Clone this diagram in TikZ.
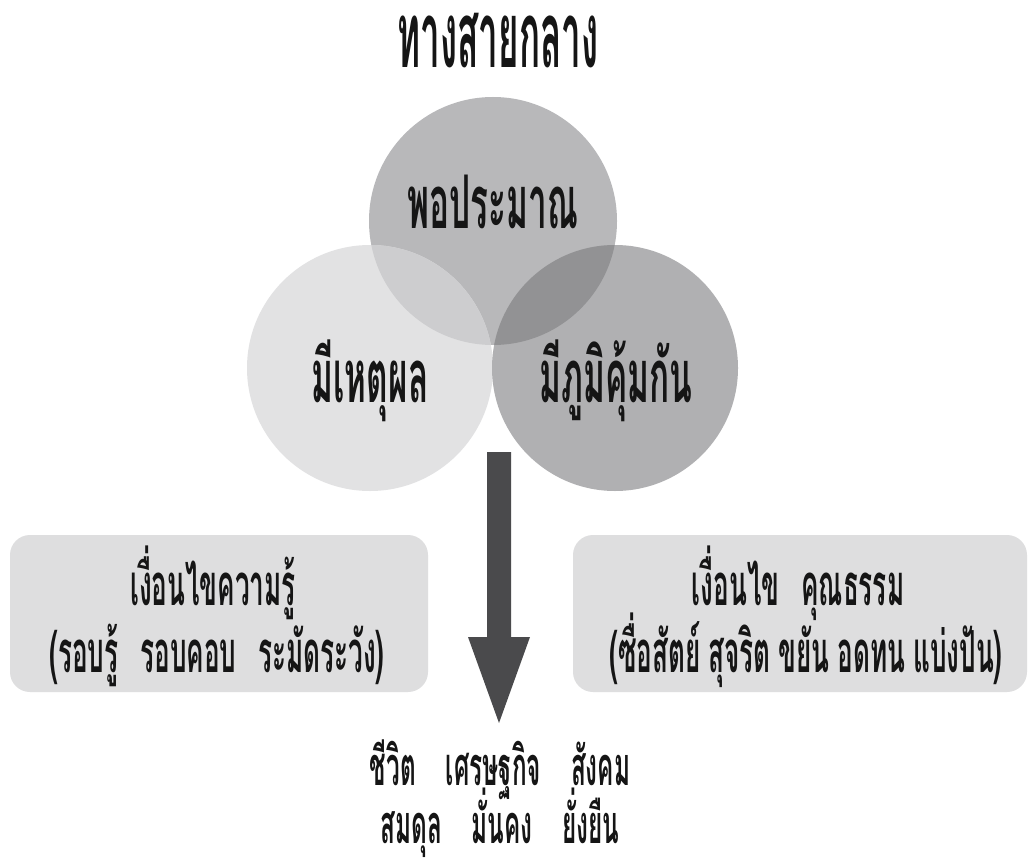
\documentclass[tikz,border=0pt]{standalone}
\usepackage{fontspec}
\newfontfamily\thf[Script=Thai,FakeStretch=0.45,BoldFont={* Bold}]{Loma}
\newfontfamily\thtitle[Script=Thai,FakeStretch=0.38,BoldFont={* Bold}]{Loma}
\definecolor{cTop}{HTML}{B8B8BA}
\definecolor{cLeft}{HTML}{E2E2E3}
\definecolor{cRight}{HTML}{B0B0B2}
\definecolor{cTL}{HTML}{CDCDCF}
\definecolor{cTR}{HTML}{929294}
\definecolor{cBox}{HTML}{DEDEDF}
\definecolor{cArrow}{HTML}{4A4A4C}
\definecolor{cText}{HTML}{151515}
\begin{document}
\begin{tikzpicture}[x=1pt,y=-1pt,
  lbl/.style={anchor=base,inner sep=0pt,text=cText,font=\thf\bfseries},
  big/.style={lbl,font=\thtitle\bfseries\fontsize{92}{96}\selectfont},
  mid/.style={lbl,font=\thf\bfseries\fontsize{74}{78}\selectfont},
  small/.style={lbl,font=\thf\bfseries\fontsize{58}{62}\selectfont},
  result/.style={lbl,font=\thf\bfseries\fontsize{54}{58}\selectfont},
  infobox/.style={draw=none,fill=cBox,rounded corners=20pt,inner sep=0pt}]
\useasboundingbox (0,0) rectangle (1030,861);
\fill[white] (0,0) rectangle (1030,861);
% circles
\coordinate (ct) at (493,221);
\coordinate (cl) at (370,368);
\coordinate (cr) at (615,368);
\fill[cTop] (ct) circle[radius=124];
\fill[cLeft] (cl) circle[radius=123];
\fill[cRight] (cr) circle[radius=123];
\begin{scope}
  \clip (ct) circle[radius=124];
  \fill[cTL] (cl) circle[radius=123];
  \fill[cTR] (cr) circle[radius=123];
\end{scope}
% title and circle labels
\node[big] (title) at (498,68) {ทางสายกลาง};
\node[mid] (pp) at (493,228) {พอประมาณ};
\node[mid] (hp) at (370,402) {มีเหตุผล};
\node[mid] (pk) at (616,402) {มีภูมิคุ้มกัน};
% arrow
\coordinate (a1) at (499,452);
\coordinate (a2) at (499,723);
\fill[cArrow] ([xshift=-12]a1) -- ([xshift=12]a1) -- ([xshift=12]a1 |- 0,637) -- ([xshift=31]a1 |- 0,637) -- (a2) -- ([xshift=-31]a1 |- 0,637) -- ([xshift=-12]a1 |- 0,637) -- cycle;
% boxes
\node[infobox,minimum width=418,minimum height=157] (kb) at (219,613.5) {};
\node[infobox,minimum width=454,minimum height=157] (mb) at (800,613.5) {};
\node[small] (k1) at (213,605) {เงื่อนไขความรู้};
\node[small] (k2) at (217,672) {(รอบรู้\hspace{22pt}รอบคอบ\hspace{22pt}ระมัดระวัง)};
\node[small] (m1) at (798,605) {เงื่อนไข\hspace{22pt}คุณธรรม};
\node[small] (m2) at (806,672) {(ซื่อสัตย์\hspace{8pt}สุจริต\hspace{8pt}ขยัน\hspace{8pt}อดทน\hspace{8pt}แบ่งปัน)};
% result text
\node[result] (r1) at (500,785) {ชีวิต\hspace{30pt}เศรษฐกิจ\hspace{30pt}สังคม};
\node[result] (r2) at (500,843) {สมดุล\hspace{30pt}มั่นคง\hspace{30pt}ยั่งยืน};
\end{tikzpicture}
\end{document}
